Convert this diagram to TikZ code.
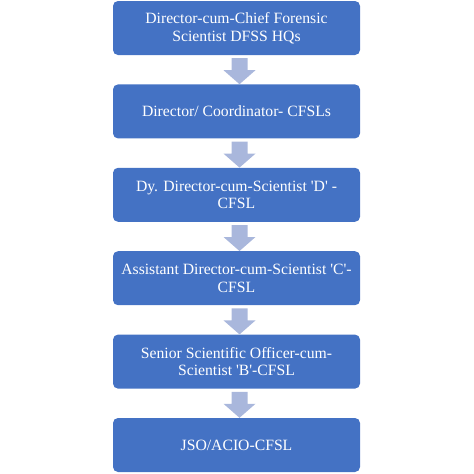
\documentclass[tikz,border=0pt]{standalone}
\usepackage{fontspec}
\setmainfont{Liberation Serif}
\usetikzlibrary{calc}
\definecolor{boxblue}{HTML}{4472C4}
\definecolor{arrowblue}{HTML}{A9B7DC}
\newcommand{\sq}{\textquotesingle}
\begin{document}
\begin{tikzpicture}[x=1pt,y=1pt,
  orgbox/.style={draw=none,fill=boxblue,rounded corners=5pt,minimum width=247pt,minimum height=54pt,
    text=white,align=center,inner sep=0pt,font=\fontsize{15.7}{17.5}\selectfont},
  flowarrow/.style={fill=arrowblue,draw=none}]
\useasboundingbox (0,0) rectangle (474,-474);
\node[orgbox] (b1) at (236.5,-28) {Director-cum-Chief Forensic\\Scientist DFSS HQs};
\node[orgbox] (b2) at (236.5,-111.4) {Director/ Coordinator- CFSLs};
\node[orgbox] (b3) at (236.5,-194.8) {Dy. Director-cum-Scientist \sq D\sq{} -\\CFSL};
\node[orgbox] (b4) at (236.5,-278.2) {Assistant Director-cum-Scientist \sq C\sq-\\CFSL};
\node[orgbox] (b5) at (236.5,-361.6) {Senior Scientific Officer-cum-\\Scientist \sq B\sq-CFSL};
\node[orgbox] (b6) at (236.5,-445) {JSO/ACIO-CFSL};
\foreach \a/\b in {b1/b2,b2/b3,b3/b4,b4/b5,b5/b6}{
  \coordinate (s) at ($(\a.south)+(3,-3)$);
  \coordinate (t) at ($(\b.north)+(3,0)$);
  \fill[flowarrow] ($(s)+(-8,0)$) -- ($(s)+(8,0)$) -- ($(t)+(8,14)$) -- ($(t)+(16,14)$)
     -- (t) -- ($(t)+(-16,14)$) -- ($(t)+(-8,14)$) -- cycle;
}
\end{tikzpicture}
\end{document}
